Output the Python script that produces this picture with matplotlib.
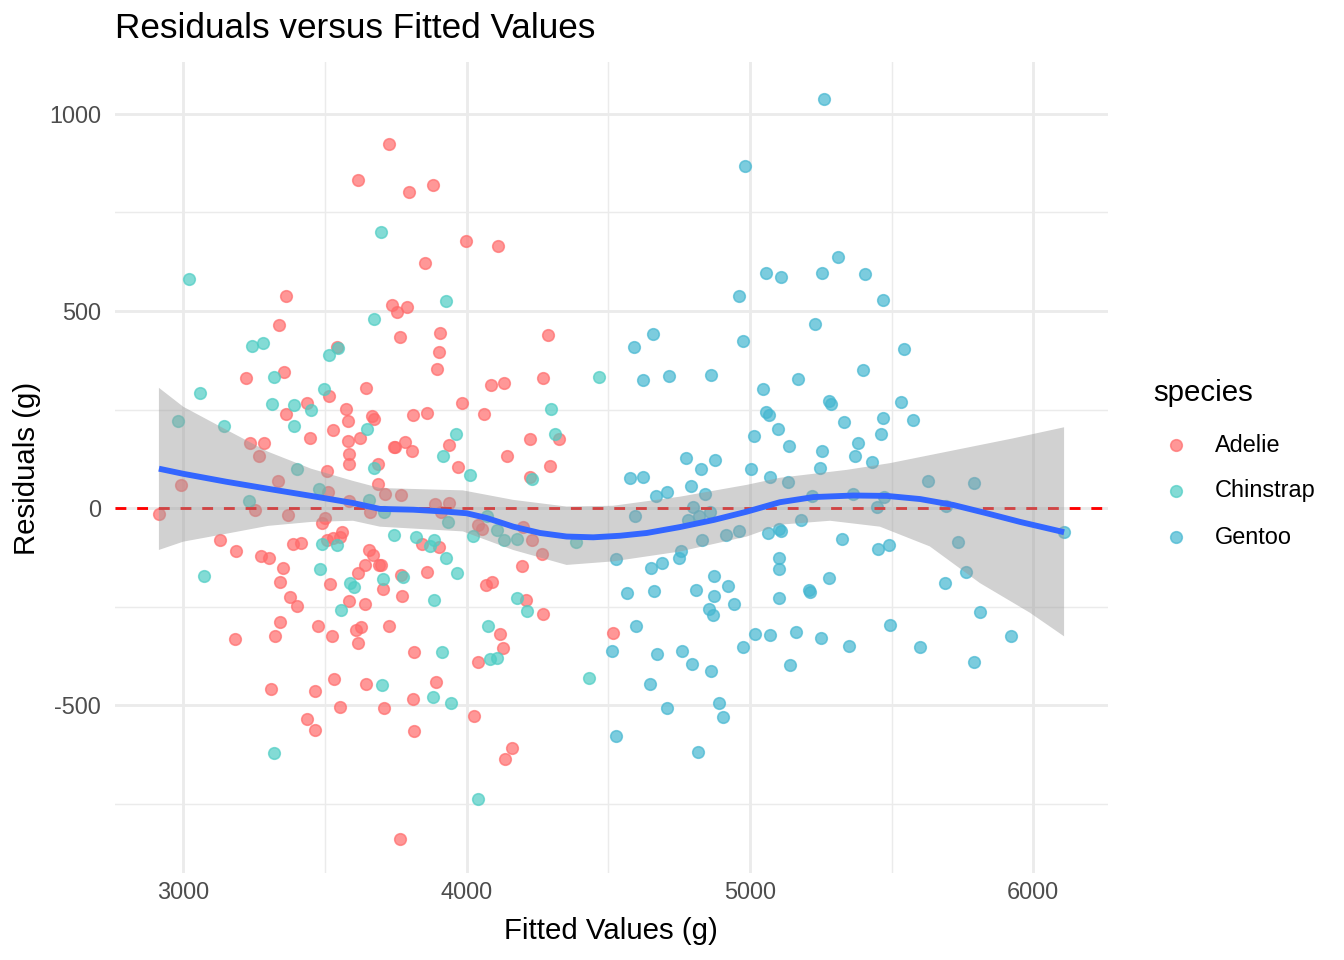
import numpy as np
import matplotlib
matplotlib.use("Agg")
import matplotlib.pyplot as plt

plt.rcParams['font.family'] = ['Liberation Sans', 'DejaVu Sans']
plt.rcParams['axes.unicode_minus'] = False

# ---- data (fitted g, residual g) ----
adelie_fit = [3727, 3618, 3798, 3880, 3997, 4112, 3854, 3361, 3736, 3753,
              3791, 3339, 3765, 3905, 3904, 3897, 3220, 3354, 3543, 3646,
              3514, 3436, 3363, 3575, 3581, 3667, 3674, 3812, 3860, 3984,
              3528, 3447, 3623, 3582, 3234, 3284, 3268, 3586, 3586, 3744,
              3747, 3784, 3806, 3939, 3971, 3687, 3507, 3333, 3688, 2993,
              3511, 3713, 3767, 3586, 3890, 3937, 2915, 3254, 3369, 3501,
              3489, 3659, 3910, 3131, 3185, 3387, 3414, 3508, 3530, 3561,
              3553, 3273, 3303, 3353, 3657, 3671, 3642, 3692, 3697, 3616,
              3340, 3518, 3770, 3843, 3902, 3861, 3706, 3772, 3377, 3400,
              3586, 3642, 3340, 3325, 3181, 3477, 3526, 3610, 3627, 3618,
              3725, 3814, 3532, 3646, 3892, 3310, 3464, 3553, 3707, 3810,
              4026, 3437, 3464, 3813, 3764, 4286, 4087, 4133, 4270, 4061,
              4225, 4325, 4143, 4293, 4224, 4041, 4053, 4200, 4230, 4266,
              4195, 4070, 4090, 4210, 4269, 4119, 4130, 4041, 4516, 4159,
              4136]
adelie_res = [923, 832, 802, 819, 678, 664, 621, 539, 515, 496,
              509, 463, 435, 445, 396, 353, 330, 346, 408, 304,
              285, 266, 238, 251, 220, 234, 227, 237, 241, 266,
              198, 179, 177, 169, 166, 166, 133, 138, 113, 156,
              154, 168, 146, 160, 104, 112, 93, 68, 62, 58,
              41, 37, 34, 17, 11, 14, -14, -4, -18, -25,
              -38, -10, -11, -81, -109, -90, -88, -81, -76, -60,
              -72, -122, -126, -152, -106, -118, -143, -144, -145, -164,
              -188, -192, -170, -92, -99, -161, -205, -222, -225, -249,
              -235, -242, -289, -324, -331, -299, -325, -309, -302, -341,
              -299, -364, -432, -445, -441, -459, -463, -504, -507, -483,
              -526, -535, -562, -564, -838, 439, 313, 318, 331, 239,
              175, 176, 133, 107, 79, -42, -53, -49, -80, -116,
              -146, -195, -187, -232, -268, -319, -355, -390, -316, -608,
              -636]

chinstrap_fit = [3019, 3699, 3926, 3672, 3243, 3282, 3545, 3514, 3319, 3059,
                 3498, 3312, 3390, 3451, 2981, 3144, 3392, 3650, 3964, 3917,
                 3402, 3674, 4012, 4299, 4313, 4467, 4230, 3478, 3232, 3656,
                 3709, 3935, 3744, 3822, 3884, 3871, 3491, 3544, 3926, 3965,
                 3481, 3706, 3775, 3590, 3602, 3074, 3884, 3557, 3914, 3700,
                 3880, 3944, 3320, 4021, 4071, 4106, 4133, 4179, 4386, 4179,
                 4213, 4077, 4084, 4106, 4431, 4039]
chinstrap_res = [582, 701, 525, 480, 410, 418, 406, 387, 332, 292,
                 302, 265, 261, 250, 221, 207, 209, 201, 187, 133,
                 98, 102, 83, 251, 188, 333, 74, 49, 19, 20,
                 -10, -35, -68, -73, -82, -96, -90, -93, -126, -165,
                 -155, -180, -174, -190, -200, -172, -232, -257, -364, -449,
                 -479, -493, -620, -71, -19, -55, -82, -79, -87, -227,
                 -262, -299, -383, -380, -430, -738]

gentoo_fit = [4982, 5056, 5111, 4961, 4659, 4591, 4977, 4624, 4716, 4864,
              5047, 5056, 5066, 5099, 5015, 5137, 4773, 4877, 4827, 5003,
              5072, 4577, 4622, 4670, 4709, 4793, 4841, 5135, 4594, 4799,
              4821, 4859, 4783, 4529, 4758, 4750, 4652, 4690, 4832, 4915,
              4961, 5065, 5103, 5110, 5103, 5103, 5104, 4565, 4660, 4809,
              4872, 4922, 4872, 4943, 4856, 4871, 4599, 4512, 4671, 4762,
              4796, 4863, 4976, 5019, 5071, 5142, 4646, 4706, 4892, 4904,
              4526, 4817, 5261, 5254, 5312, 5406, 5471, 5231, 5545, 5399,
              5171, 5278, 5286, 5532, 5331, 5471, 5576, 5254, 5383, 5461,
              5370, 5431, 5247, 5630, 5790, 5219, 5364, 5472, 5448, 5692,
              5180, 5326, 5451, 5492, 5736, 5278, 5208, 5212, 5689, 5763,
              5812, 5164, 5252, 5349, 5496, 5601, 5923, 5790, 6109]
gentoo_res = [868, 595, 587, 539, 441, 409, 423, 325, 335, 337,
              301, 244, 235, 201, 183, 158, 127, 123, 98, 98,
              80, 76, 79, 31, 41, 57, 35, 65, -19, 2,
              -19, -10, -31, -129, -109, -127, -151, -140, -82, -67,
              -58, -64, -52, -59, -127, -155, -229, -215, -210, -208,
              -172, -197, -222, -243, -255, -271, -298, -362, -370, -363,
              -395, -412, -351, -320, -322, -397, -445, -507, -493, -530,
              -577, -619, 1038, 595, 637, 593, 528, 467, 404, 350,
              328, 271, 264, 268, 218, 229, 224, 146, 166, 189,
              131, 118, 103, 70, 64, 30, 35, 27, 2, 6,
              -30, -78, -103, -93, -86, -178, -207, -213, -190, -163,
              -264, -314, -328, -349, -297, -352, -324, -391, -61]

# loess smooth and its confidence band
smooth_x = [2914, 3000, 3151, 3299, 3451, 3599, 3694, 3812, 3930, 4000, 4071, 4165,
            4259, 4353, 4447, 4542, 4636, 4753, 4872, 4989, 5106, 5224, 5365, 5483,
            5601, 5718, 5836, 5954, 6109]
smooth_y = [100, 87, 67, 49, 31, 13, -2, -4, -9, -13, -25, -47,
            -63, -72, -74, -70, -63, -48, -30, -9, 15, 28, 32, 31,
            23, 8, -13, -35, -61]
band_hi_x = [2914, 3000, 3151, 3299, 3451, 3599, 3694, 3987, 4164, 4353, 4517, 4753,
             4989, 5106, 5342, 5494, 5695, 5930, 6109]
band_hi_y = [305, 257, 199, 143, 100, 69, 51, 45, 21, 4, 6, 29,
             59, 77, 97, 114, 143, 177, 205]
band_lo_x = [2914, 3000, 3151, 3299, 3451, 3599, 3694, 3987, 4164, 4353, 4517, 4753,
             4989, 5106, 5283, 5459, 5635, 5812, 5988, 6109]
band_lo_y = [-106, -85, -65, -45, -35, -32, -47, -59, -106, -144, -135, -110,
             -72, -42, -32, -47, -97, -190, -265, -325]

species = ['Adelie', 'Chinstrap', 'Gentoo']
colors = ['#FF6B6B', '#4ECDC4', '#45B7D1']
series = [(adelie_fit, adelie_res), (chinstrap_fit, chinstrap_res), (gentoo_fit, gentoo_res)]

W, H = 1344, 960
fig = plt.figure(figsize=(7, 5), dpi=192)
ax = fig.add_axes([115 / W, 1 - 873 / H, (1108 - 115) / W, (873 - 62) / H])

for (fx, ry), c in zip(series, colors):
    ax.scatter(fx, ry, s=19, color=c, alpha=0.7, edgecolors=c, linewidths=0.6, zorder=3)

ax.axhline(0, color='red', lw=1.07, ls=(0, (3.8, 3.8)), zorder=4)
ax.fill(band_hi_x + band_lo_x[::-1], band_hi_y + band_lo_y[::-1],
        color='#999999', alpha=0.45, lw=0, zorder=5)
ax.plot(smooth_x, smooth_y, color='#3366FF', lw=2.2, zorder=6, solid_capstyle='butt')

ax.set_xlim(2759, 6264)
ax.set_ylim(-925, 1131)
ax.set_xticks([3000, 4000, 5000, 6000])
ax.set_xticks([3500, 4500, 5500], minor=True)
ax.set_yticks([-500, 0, 500, 1000])
ax.set_yticks([-750, -250, 250, 750], minor=True)
ax.grid(which='major', color='#EBEBEB', lw=1.07)
ax.grid(which='minor', color='#EBEBEB', lw=0.53)
ax.set_axisbelow(True)
for sp in ax.spines.values():
    sp.set_visible(False)
ax.tick_params(which='both', length=0, labelsize=8.8, labelcolor='#4D4D4D')
ax.tick_params(axis='y', pad=5.3)
ax.tick_params(axis='x', pad=3.0)

fig.text(115 / W, 1 - 38 / H, 'Residuals versus Fitted Values', fontsize=13.2,
         ha='left', va='baseline')
fig.text(611 / W, 1 - 931 / H, 'Fitted Values (g)', fontsize=11, ha='center', va='center')
fig.text(27 / W, 1 - 468 / H, 'Residuals (g)', fontsize=11, ha='center', va='center',
         rotation=90)

# legend, drawn on an overlay in pixel coordinates
lg = fig.add_axes([0, 0, 1, 1], zorder=10)
lg.set_xlim(0, W)
lg.set_ylim(H, 0)
lg.axis('off')
lg.text(1153, 393, 'species', fontsize=11, ha='left', va='center')
for i, (name, c) in enumerate(zip(species, colors)):
    yk = 445 + i * 46
    lg.scatter([1176], [yk], s=19, color=c, alpha=0.7, edgecolors=c, linewidths=0.6)
    lg.text(1215, yk, name, fontsize=8.8, ha='left', va='center')

fig.savefig('out.png', dpi=192)
